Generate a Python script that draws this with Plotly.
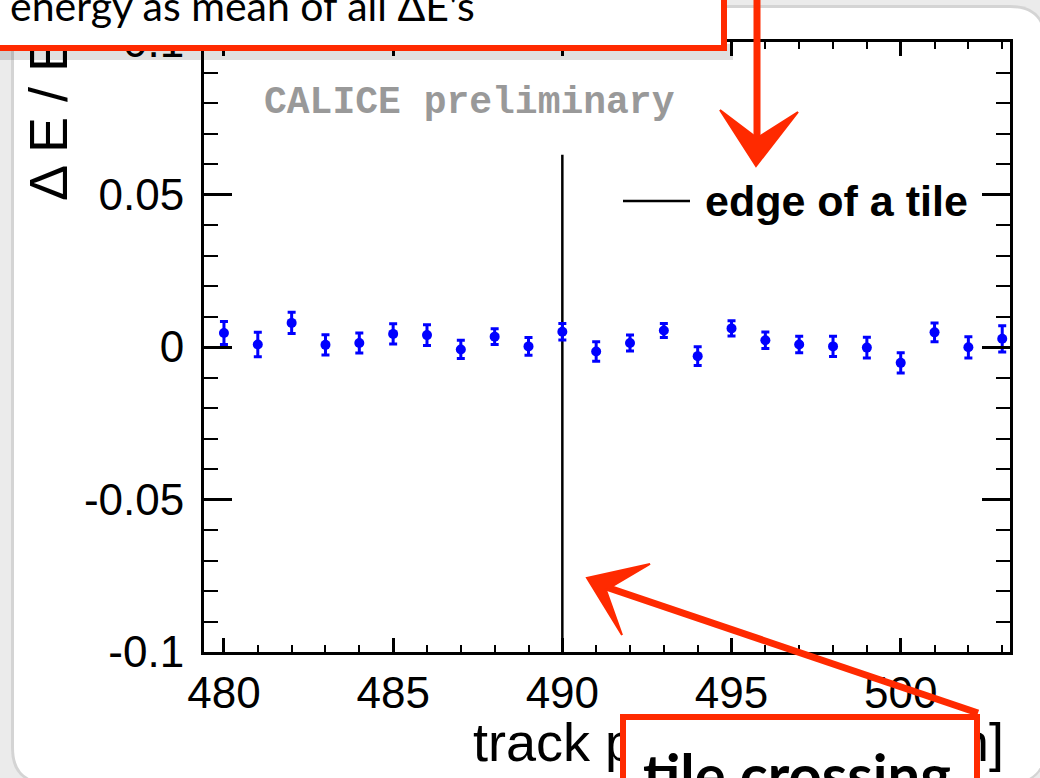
import plotly.graph_objects as go

# ---------------- data ----------------
track_pos = list(range(480, 504))
dE_over_E = [0.0046, 0.0008, 0.0079, 0.0007, 0.0013, 0.0043, 0.0039, -0.0008,
             0.0034, 0.0002, 0.0050, -0.0015, 0.0013, 0.0054, -0.0030, 0.0061,
             0.0022, 0.0008, 0.0002, -0.0002, -0.0052, 0.0048, -0.0001, 0.0027]
dE_err = [0.0038, 0.0040, 0.0035, 0.0033, 0.0033, 0.0033, 0.0034, 0.0030,
          0.0026, 0.0029, 0.0027, 0.0032, 0.0026, 0.0023, 0.0031, 0.0025,
          0.0027, 0.0027, 0.0033, 0.0034, 0.0033, 0.0031, 0.0035, 0.0043]
edge_x = [490, 490]
edge_y = [-0.1, 0.063]

x_tickvals = [480, 485, 490, 495, 500]
x_ticktext = ["480", "485", "490", "495", "500"]
y_tickvals = [-0.1, -0.05, 0, 0.05, 0.1]
y_ticktext = ["-0.1", "-0.05", "0", "0.05", "0.1"]

x_title = "track position (x) [mm]"
y_title = "Δ E / E<sub>beam</sub>"
watermark = "CALICE preliminary"
legend_text = "edge of a tile"
top_note = "energy as mean of all ΔE's"
bottom_note = "tile crossing"

# ---------------- layout helpers ----------------
W, H = 1040, 778
L, R, T, B = 204, 1010, 42, 652
def px(x):
    return (x - L) / (R - L)
def py(y):
    return (B - y) / (B - T)

RED = "#ff2a00"

def rrect(x0, y0, x1, y1, r):
    return (f"M{px(x0+r)},{py(y0)} L{px(x1-r)},{py(y0)} Q{px(x1)},{py(y0)} {px(x1)},{py(y0+r)} "
            f"L{px(x1)},{py(y1-r)} Q{px(x1)},{py(y1)} {px(x1-r)},{py(y1)} "
            f"L{px(x0+r)},{py(y1)} Q{px(x0)},{py(y1)} {px(x0)},{py(y1-r)} "
            f"L{px(x0)},{py(y0+r)} Q{px(x0)},{py(y0)} {px(x0+r)},{py(y0)} Z")

def poly(pts):
    return "M" + " L".join(f"{px(a)},{py(b)}" for a, b in pts) + " Z"

fig = go.Figure()
fig.add_trace(go.Scatter(x=edge_x, y=edge_y, mode="lines",
                         line=dict(color="black", width=2.5),
                         showlegend=False, hoverinfo="skip"))
fig.add_trace(go.Scatter(x=track_pos, y=dE_over_E, mode="markers",
                         marker=dict(color="#0000ff", size=10),
                         error_y=dict(type="data", array=dE_err, color="#0000ff",
                                      thickness=3, width=4),
                         cliponaxis=False, showlegend=False))

axfont = dict(family="Liberation Sans, Arial", size=44, color="black")

fig.update_xaxes(range=[479.41, 503.23], showline=True, linecolor="black", linewidth=3,
                 mirror="allticks", ticks="inside", ticklen=14, tickwidth=2.5, tickcolor="black",
                 tickmode="array", tickvals=x_tickvals, ticktext=x_ticktext,
                 tickfont=axfont, showgrid=False, zeroline=False,
                 minor=dict(ticks="inside", ticklen=7, tickwidth=2, tickcolor="black",
                            tickmode="linear", tick0=480, dtick=1, showgrid=False))
fig.update_yaxes(range=[-0.1, 0.1], showline=True, linecolor="black", linewidth=3,
                 mirror="allticks", ticks="inside", ticklen=28, tickwidth=2.5, tickcolor="black",
                 tickmode="array", tickvals=y_tickvals, ticktext=y_ticktext,
                 tickfont=axfont, showgrid=False, zeroline=False, ticklabelstandoff=8,
                 minor=dict(ticks="inside", ticklen=14, tickwidth=2, tickcolor="black",
                            tickmode="linear", tick0=0, dtick=0.01, showgrid=False))

shapes = [
    # slide panel shadow + white panel
    dict(type="path", xref="paper", yref="paper", path=rrect(11, 5, 1046, 784, 36),
         fillcolor="#d4d4d4", line=dict(width=0), layer="below"),
    dict(type="path", xref="paper", yref="paper", path=rrect(14, 8, 1044, 782, 34),
         fillcolor="white", line=dict(width=0), layer="below"),
    # legend line sample
    dict(type="line", xref="paper", yref="paper", x0=px(623), x1=px(690), y0=py(201), y1=py(201),
         line=dict(color="black", width=2.5), layer="above"),
    # shadow under top box
    dict(type="rect", xref="paper", yref="paper", x0=px(-20), x1=px(733), y0=py(60), y1=py(44),
         fillcolor="rgba(0,0,0,0.12)", line=dict(width=0), layer="above"),
    # arrow 1 (vertical)
    dict(type="line", xref="paper", yref="paper", x0=px(757), x1=px(757), y0=py(-5), y1=py(150),
         line=dict(color=RED, width=7), layer="above"),
    dict(type="path", xref="paper", yref="paper",
         path=poly([(720, 110), (756, 166), (798, 112), (757, 138)]),
         fillcolor=RED, line=dict(color=RED, width=2), layer="above"),
    # arrow 2 (diagonal)
    dict(type="line", xref="paper", yref="paper", x0=px(978), x1=px(600), y0=py(713), y1=py(585),
         line=dict(color=RED, width=7), layer="above"),
    dict(type="path", xref="paper", yref="paper",
         path=poly([(650, 564), (587, 578), (622, 635), (606, 590)]),
         fillcolor=RED, line=dict(color=RED, width=2), layer="above"),
]

annotations = [
    dict(text=y_title, textangle=-90, xref="paper", yref="paper", x=px(52), y=py(203),
         xanchor="center", yanchor="bottom", showarrow=False,
         font=dict(family="Liberation Sans, Arial", size=54, color="black")),
    dict(text=x_title, xref="paper", yref="paper", x=px(1006), y=py(742),
         xanchor="right", yanchor="middle", showarrow=False,
         font=dict(family="Liberation Sans, Arial", size=54, color="black")),
    dict(text="<b>" + watermark + "</b>", xref="paper", yref="paper", x=px(262), y=py(103),
         xanchor="left", yanchor="middle", showarrow=False,
         font=dict(family="Liberation Mono, Courier New", size=38, color="#999999")),
    dict(text="<b>" + legend_text + "</b>", xref="paper", yref="paper", x=px(703), y=py(201),
         xanchor="left", yanchor="middle", showarrow=False,
         font=dict(family="Liberation Sans, Arial", size=43, color="black")),
    # top box
    dict(text=" ", xref="paper", yref="paper", x=px(352), y=py(14),
         xanchor="center", yanchor="middle", showarrow=False,
         width=738, height=62, borderpad=0, bgcolor="white", bordercolor=RED, borderwidth=6),
    dict(text=top_note, xref="paper", yref="paper", x=px(8), y=py(5),
         xanchor="left", yanchor="middle", showarrow=False,
         font=dict(family="Lato, Noto Sans", size=41, color="black")),
    # bottom box
    dict(text=" ", xref="paper", yref="paper", x=px(800), y=py(758),
         xanchor="center", yanchor="middle", showarrow=False,
         width=348, height=77, borderpad=0, bgcolor="white", bordercolor=RED, borderwidth=6),
    dict(text="<b>" + bottom_note + "</b>", xref="paper", yref="paper", x=px(641), y=py(737),
         xanchor="left", yanchor="top", showarrow=False,
         font=dict(family="Lato, Noto Sans", size=58, color="black")),
]

fig.update_layout(width=W, height=H, margin=dict(l=L, r=W - R, t=T, b=H - B, pad=0),
                  paper_bgcolor="#ebebeb", plot_bgcolor="white",
                  shapes=shapes, annotations=annotations, showlegend=False)

fig.write_html("out.html", config={"displayModeBar": False},
               post_script="document.body.style.margin='0';document.body.style.overflow='hidden';")
